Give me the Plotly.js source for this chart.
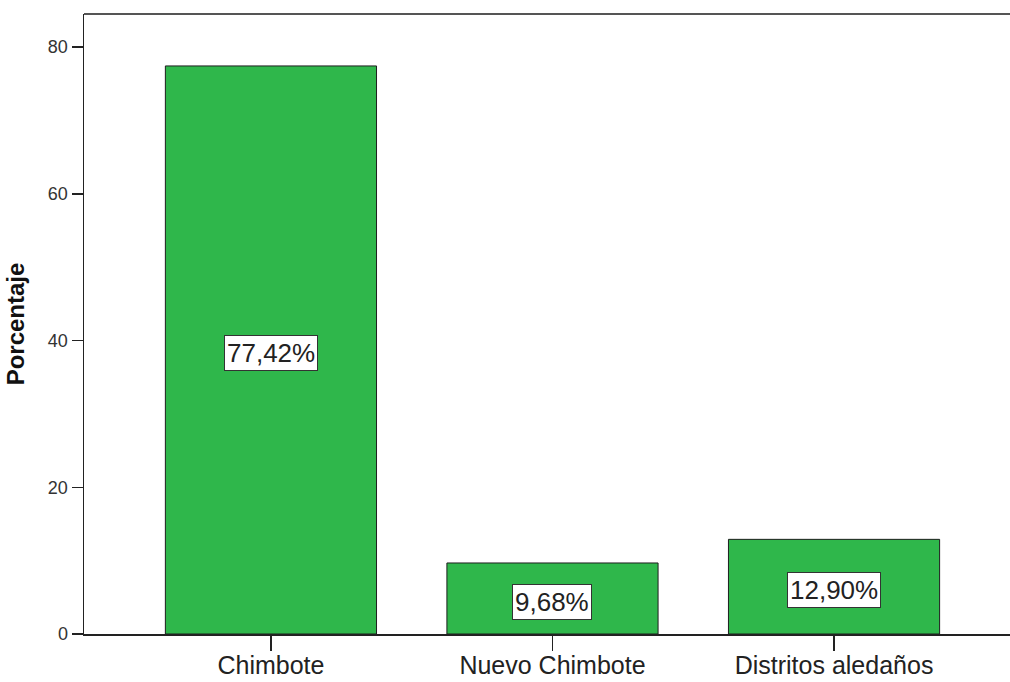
<!DOCTYPE html>
<html>
<head>
<meta charset="utf-8">
<script src="https://cdn.plot.ly/plotly-3.0.1.min.js"></script>
<style>html,body{margin:0;padding:0;background:#fff;}#chart{width:1010px;height:682px;}</style>
</head>
<body>
<div id="chart"></div>
<script>
const categories = ["Chimbote", "Nuevo Chimbote", "Distritos aledaños"];
const percentages = [77.42, 9.68, 12.90];
const yTickValues = [0, 20, 40, 60, 80];

const labels = percentages.map(v => v.toFixed(2).replace('.', ',') + '%');

const trace = {
  type: 'bar',
  x: categories,
  y: percentages,
  width: 0.75,
  marker: {color: '#2fb74b', line: {color: '#1e1e1e', width: 1}},
  hoverinfo: 'none'
};

const annotations = categories.map((c, i) => ({
  x: c, y: percentages[i] / 2, xref: 'x', yref: 'y',
  text: labels[i], showarrow: false,
  font: {family: 'Liberation Sans, Arial, sans-serif', size: 26, color: '#222'},
  bgcolor: '#ffffff', bordercolor: '#333333', borderwidth: 1, borderpad: 2,
  yshift: -3.5
}));

const layout = {
  width: 1010, height: 682,
  margin: {l: 84, r: 0, t: 14, b: 48},
  paper_bgcolor: '#ffffff', plot_bgcolor: '#ffffff',
  showlegend: false,
  bargap: 0.25,
  xaxis: {
    type: 'category',
    range: [-0.664, 2.625],
    showgrid: false, zeroline: false,
    showline: true, linecolor: '#222', linewidth: 1.5,
    ticks: 'outside', ticklen: 15, tickcolor: '#222', tickwidth: 1.5,
    ticklabelstandoff: -7,
    tickfont: {family: 'Liberation Sans, Arial, sans-serif', size: 25, color: '#222'},
    fixedrange: true
  },
  yaxis: {
    range: [0, 84.5],
    tickvals: yTickValues,
    showgrid: false, zeroline: false,
    showline: true, linecolor: '#222', linewidth: 1.5,
    ticks: 'outside', ticklen: 11, tickcolor: '#222', tickwidth: 1.5,
    tickfont: {family: 'Liberation Sans, Arial, sans-serif', size: 18, color: '#333'},
    title: {text: 'Porcentaje', standoff: 16,
      font: {family: 'Liberation Sans, Arial, sans-serif', size: 24, color: '#111', weight: 'bold'}},
    fixedrange: true
  },
  annotations: annotations,
  shapes: [{type: 'line', xref: 'paper', yref: 'paper', x0: 0, x1: 1, y0: 1, y1: 1,
    line: {color: '#555', width: 2}}]
};

Plotly.newPlot('chart', [trace], layout, {displayModeBar: false, staticPlot: true});
</script>
</body>
</html>
